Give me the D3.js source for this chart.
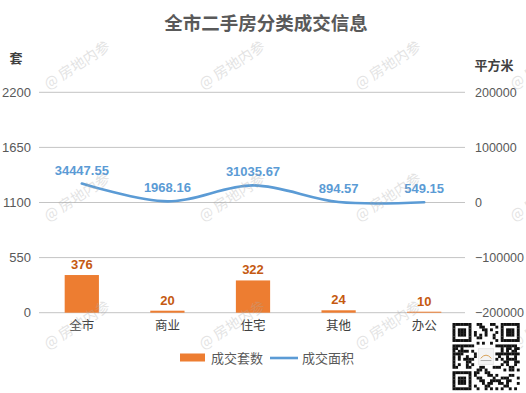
<!DOCTYPE html>
<html>
<head>
<meta charset="utf-8">
<script src="https://cdn.jsdelivr.net/npm/d3@7"></script>
<style>
html,body{margin:0;padding:0;background:#fff;}
svg{display:block;}
</style>
</head>
<body>
<svg id="chart" width="526" height="393"></svg>
<script>
const categories = ["全市", "商业", "住宅", "其他", "办公"];
const countValues = [376, 20, 322, 24, 10];
const areaValues = [34447.55, 1968.16, 31035.67, 894.57, 549.15];
const leftTicks = [0, 550, 1100, 1650, 2200];
const rightTicks = [-200000, -100000, 0, 100000, 200000];
const seriesNames = ["成交套数", "成交面积"];
const titleText = "全市二手房分类成交信息";
const leftUnit = "套";
const rightUnit = "平方米";
const watermarkText = "@ 房地内参";

const svg = d3.select("#chart");
const cjk = "'Noto Sans CJK SC', 'Microsoft YaHei', sans-serif";
const num = "'Liberation Sans', Arial, sans-serif";

const x = d3.scaleBand().domain(categories).range([39, 467]).paddingInner(0.6).paddingOuter(0.3);
const xc = d => x(d) + x.bandwidth() / 2;
const yL = d3.scaleLinear().domain([0, 2200]).range([312.7, 92.3]);
const yR = d3.scaleLinear().domain([-200000, 200000]).range([312.7, 92.3]);

// title
svg.append("text").attr("x", 266).attr("y", 30).attr("text-anchor", "middle")
  .attr("font-family", cjk).attr("font-weight", "bold").attr("font-size", 18.5)
  .attr("fill", "#595959").text(titleText);

// units
svg.append("text").attr("x", 16).attr("y", 63).attr("text-anchor", "middle")
  .attr("font-family", cjk).attr("font-weight", "bold").attr("font-size", 13).attr("fill", "#404040").text(leftUnit);
svg.append("text").attr("x", 494).attr("y", 70).attr("text-anchor", "middle")
  .attr("font-family", cjk).attr("font-weight", "bold").attr("font-size", 13).attr("fill", "#404040").text(rightUnit);

// gridlines
svg.append("g").selectAll("line").data(leftTicks).join("line")
  .attr("x1", 39).attr("x2", 465).attr("y1", d => yL(d)).attr("y2", d => yL(d))
  .attr("stroke", "#c4c4c4").attr("stroke-width", 1);

// left axis
const gl = svg.append("g").attr("transform", "translate(31,0)")
  .call(d3.axisLeft(yL).tickValues(leftTicks).tickFormat(d3.format("d")).tickSize(0).tickPadding(0));
gl.select(".domain").remove();
gl.selectAll("text").attr("font-family", num).attr("font-size", 13).attr("fill", "#595959");

// right axis
const gr = svg.append("g").attr("transform", "translate(475,0)")
  .call(d3.axisRight(yR).tickValues(rightTicks).tickFormat(d3.format("d")).tickSize(0).tickPadding(0));
gr.select(".domain").remove();
gr.selectAll("text").attr("font-family", num).attr("font-size", 12.5).attr("fill", "#595959");

// x axis labels
const gx = svg.append("g").attr("transform", "translate(0,313)")
  .call(d3.axisBottom(x).tickSize(0).tickPadding(8));
gx.select(".domain").remove();
gx.selectAll("text").attr("font-family", cjk).attr("font-size", 12.5).attr("fill", "#404040");

// bars
svg.append("g").selectAll("rect").data(countValues).join("rect")
  .attr("x", (d, i) => x(categories[i])).attr("width", x.bandwidth())
  .attr("y", d => yL(d)).attr("height", d => yL(0) - yL(d))
  .attr("fill", "#ED7D31");
svg.append("g").selectAll("text").data(countValues).join("text")
  .attr("x", (d, i) => xc(categories[i])).attr("y", d => yL(d) - 6)
  .attr("text-anchor", "middle").attr("font-family", num).attr("font-weight", "bold")
  .attr("font-size", 13).attr("fill", "#C55A11").text(d => d);

// line
const line = d3.line().x((d, i) => xc(categories[i])).y(d => yR(d)).curve(d3.curveCatmullRom.alpha(0.5));
svg.append("path").datum(areaValues).attr("d", line).attr("fill", "none")
  .attr("stroke", "#5B9BD5").attr("stroke-width", 2.6).attr("stroke-linecap", "round");
svg.append("g").selectAll("text").data(areaValues).join("text")
  .attr("x", (d, i) => xc(categories[i])).attr("y", d => yR(d) - 9)
  .attr("text-anchor", "middle").attr("font-family", num).attr("font-weight", "bold")
  .attr("font-size", 13).attr("fill", "#5B9BD5").text(d => d.toFixed(2));

// legend
const lg = svg.append("g");
lg.append("rect").attr("x", 180).attr("y", 353.5).attr("width", 25).attr("height", 8).attr("fill", "#ED7D31");
lg.append("text").attr("x", 211).attr("y", 363).attr("font-family", cjk).attr("font-size", 13).attr("fill", "#595959").text(seriesNames[0]);
lg.append("line").attr("x1", 270).attr("x2", 298).attr("y1", 358).attr("y2", 358).attr("stroke", "#5B9BD5").attr("stroke-width", 2.6);
lg.append("text").attr("x", 302).attr("y", 363).attr("font-family", cjk).attr("font-size", 13).attr("fill", "#595959").text(seriesNames[1]);

// watermarks
const wmX = [77, 232, 388, 543], wmY = [65, 197, 325];
const wm = svg.append("g").attr("pointer-events", "none");
wmY.forEach(cy => wmX.forEach(cx => {
  wm.append("text").attr("transform", `translate(${cx},${cy}) rotate(-33)`)
    .attr("text-anchor", "middle").attr("dy", "0.35em")
    .attr("font-family", cjk).attr("font-size", 14.5).attr("fill", "#aaa").attr("opacity", 0.32)
    .text(watermarkText);
}));

// decorative QR code
(function () {
  const n = 25, s = 67 / n, ox = 452.5, oy = 323;
  const g = svg.append("g");
  g.append("rect").attr("x", ox).attr("y", oy).attr("width", 67).attr("height", 67).attr("fill", "#fff");
  const finder = (fx, fy) => (i, j) => {
    const a = i - fx, b = j - fy;
    if (a < 0 || b < 0 || a > 6 || b > 6) return null;
    if (a === 0 || b === 0 || a === 6 || b === 6) return 1;
    if (a >= 2 && a <= 4 && b >= 2 && b <= 4) return 1;
    return 0;
  };
  const fs = [finder(0, 0), finder(n - 7, 0), finder(0, n - 7)];
  for (let i = 0; i < n; i++) for (let j = 0; j < n; j++) {
    let v = null;
    for (const f of fs) { const r = f(i, j); if (r !== null) v = r; }
    if (v === null) {
      if ((i === 7 && j < 8) || (j === 7 && i < 8) || (i === n - 8 && j < 8) || (j === 7 && i > n - 9) || (i === 7 && j > n - 9) || (j === n - 8 && i < 8)) v = 0;
      else if (i >= 9 && i <= 15 && j >= 9 && j <= 15) v = 0;
      else v = ((i * 31 + j * 17 + i * j * 7 + (i ^ j) * 3) % 5) < 2 ? 1 : 0;
    }
    if (v) g.append("rect").attr("x", ox + i * s).attr("y", oy + j * s).attr("width", s + 0.2).attr("height", s + 0.2).attr("fill", "#111");
  }
  g.append("rect").attr("x", ox + 9.6 * s).attr("y", oy + 9.6 * s).attr("width", 5.8 * s).attr("height", 5.8 * s)
    .attr("fill", "#f4f4f4").attr("stroke", "#ddd").attr("stroke-width", 0.6);
  g.append("path").attr("d", `M${ox + 10.5 * s},${oy + 13.2 * s} Q${ox + 12.5 * s},${oy + 10.8 * s} ${ox + 14.5 * s},${oy + 13.2 * s}`)
    .attr("fill", "none").attr("stroke", "#d9a35a").attr("stroke-width", 1);
  g.append("line").attr("x1", ox + 10.5 * s).attr("x2", ox + 14.5 * s).attr("y1", oy + 14 * s).attr("y2", oy + 14 * s)
    .attr("stroke", "#999").attr("stroke-width", 0.8);
})();
</script>
</body>
</html>
